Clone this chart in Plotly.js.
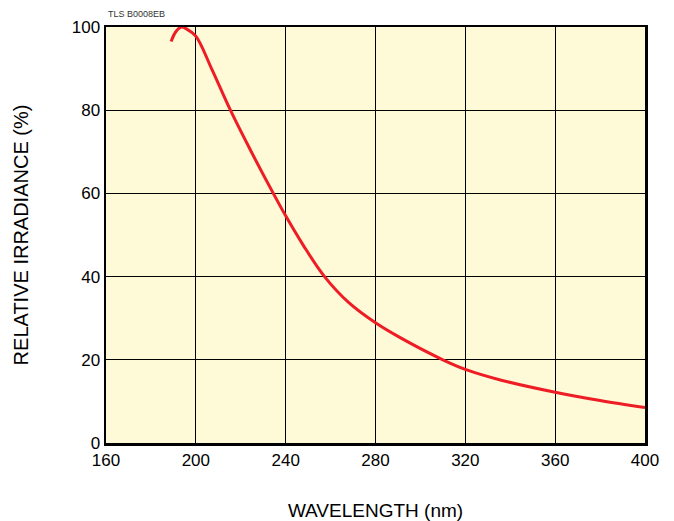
<!DOCTYPE html>
<html>
<head>
<meta charset="utf-8">
<script src="https://cdn.plot.ly/plotly-3.0.1.min.js"></script>
<style>html,body{margin:0;padding:0;background:#fff;}#chart{width:674px;height:521px;}</style>
</head>
<body>
<div id="chart"></div>
<script>
// Wavelength (nm)
const wavelength = [189, 191, 193.5, 196, 200, 207, 215.4, 224.7, 234.5, 240, 248, 257.3, 268, 280, 291.4, 310, 320, 336, 360, 380, 400];
// Relative irradiance (%)
const irradiance = [96.5, 98.8, 100, 99.5, 97.8, 90, 80, 70, 60, 54.6, 47.4, 40, 33.8, 28.9, 25.2, 20, 17.7, 15.1, 12.2, 10.2, 8.5];
const xTicks = [160, 200, 240, 280, 320, 360, 400];
const yTicks = [0, 20, 40, 60, 80, 100];

const trace = {
  x: wavelength, y: irradiance, type: 'scatter', mode: 'lines',
  line: {color: '#ee1c25', width: 3, shape: 'spline', smoothing: 1},
  hoverinfo: 'skip'
};

const fontFam = '"Liberation Sans", Arial, Helvetica, sans-serif';
const layout = {
  width: 674, height: 521,
  margin: {l: 106, r: 29, t: 27, b: 78},
  paper_bgcolor: '#ffffff',
  plot_bgcolor: '#fef9d6',
  showlegend: false,
  font: {family: fontFam, color: '#000', size: 17},
  xaxis: {
    range: [160, 400], tickvals: xTicks, ticktext: xTicks.map(String),
    showgrid: true, gridcolor: '#000', gridwidth: 1.2,
    showline: true, linecolor: '#000', linewidth: 2.5, mirror: true,
    ticks: '', zeroline: false, fixedrange: true,
    tickfont: {size: 17, family: fontFam},
    title: {text: 'WAVELENGTH (nm)', font: {size: 19, family: fontFam}, standoff: 36}
  },
  yaxis: {
    range: [0, 100], tickvals: yTicks, ticktext: yTicks.map(String),
    showgrid: true, gridcolor: '#000', gridwidth: 1.2,
    showline: true, linecolor: '#000', linewidth: 2.5, mirror: true,
    ticks: '', zeroline: false, fixedrange: true,
    tickfont: {size: 17, family: fontFam},
    title: {text: 'RELATIVE IRRADIANCE (%)', font: {size: 20, family: fontFam}, standoff: 38}
  },
  annotations: [{
    text: 'TLS B0008EB', xref: 'paper', yref: 'paper', x: 0, y: 1,
    xanchor: 'left', yanchor: 'bottom', yshift: 6, showarrow: false,
    font: {size: 9, family: fontFam, color: '#333'}
  }]
};

Plotly.newPlot('chart', [trace], layout, {staticPlot: true, displayModeBar: false});
</script>
</body>
</html>
